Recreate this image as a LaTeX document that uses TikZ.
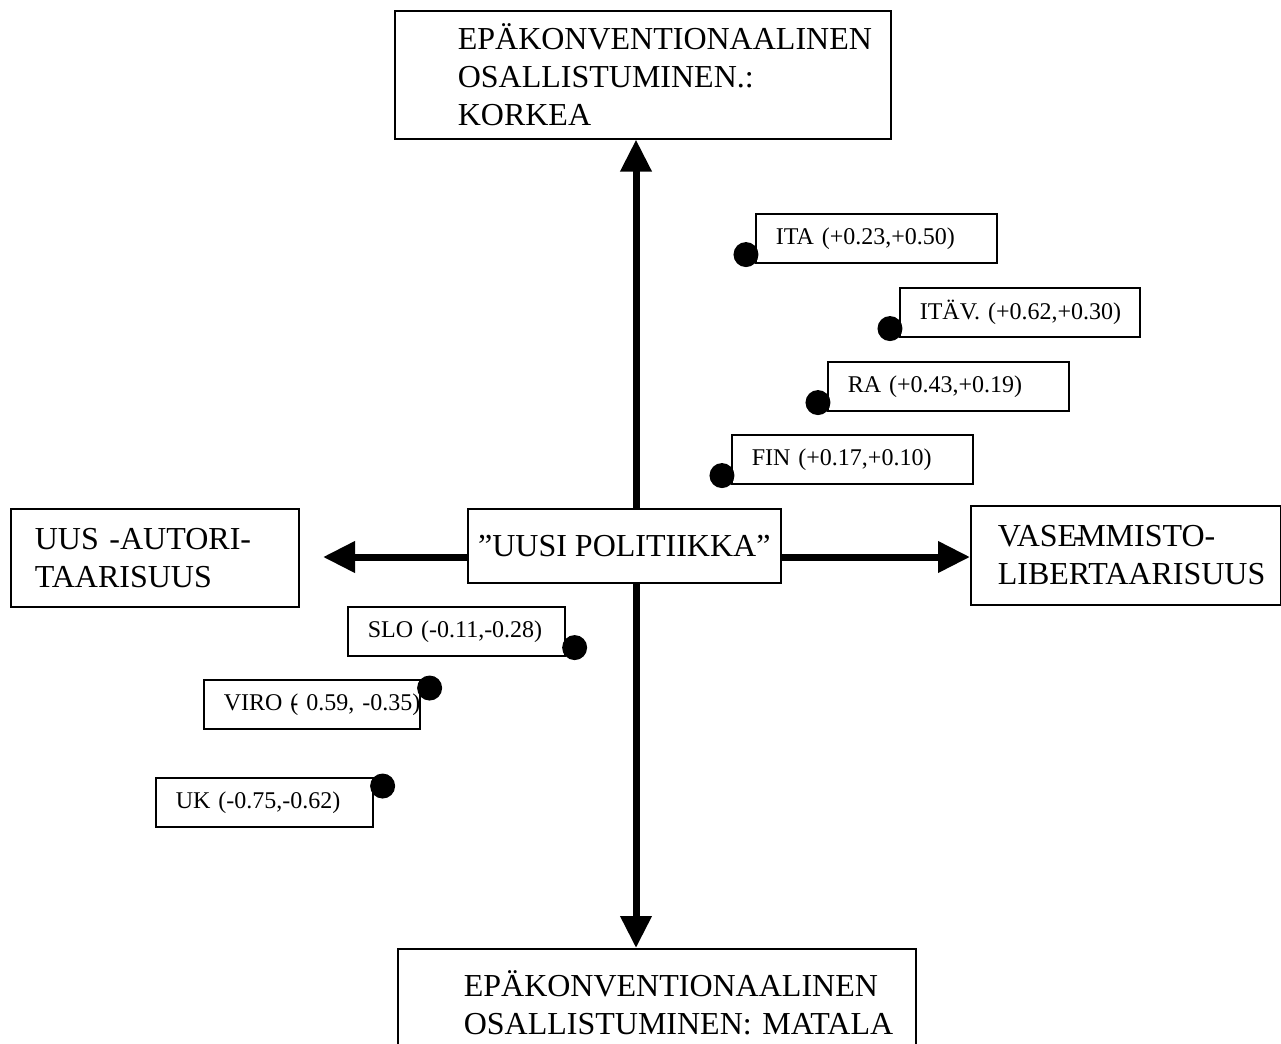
\documentclass[tikz,border=0pt]{standalone}
\usepackage{fontspec}
\setmainfont{Liberation Serif}
\usetikzlibrary{arrows.meta,positioning}

\begin{document}
\begin{tikzpicture}[x=0.75pt,y=-0.75pt,
  bigbox/.style={draw, line width=1.2pt, anchor=north west, align=left, inner ysep=0pt, font=\fontsize{24}{28.5}\selectfont},
  tagbox/.style={draw, line width=1.2pt, anchor=north west, align=left, inner xsep=15pt, inner ysep=0pt, minimum height=36.75pt, font=\fontsize{18}{21}\selectfont},
  dot/.style={circle, fill, inner sep=0pt, minimum size=18.75pt},
  axarrow/.style={line width=5.25pt, -{Triangle[length=24pt, width=22.5pt]}}]
\useasboundingbox (0,0) rectangle (1281,1043);
\node[bigbox, inner xsep=47.25pt, text width=277.5pt, minimum height=96pt] (top) at (394,10) {\mbox{EPÄKONVENTIONAALINEN}\\\mbox{OSALLISTUMINEN.:}\\\mbox{KORKEA}};
\node[bigbox, inner xsep=49.5pt, text width=289.5pt, minimum height=81pt] (bottom) at (397,948) {\mbox{EPÄKONVENTIONAALINEN}\\\mbox{OSALLISTUMINEN: MATALA}};
\node[bigbox, inner xsep=18pt, text width=180pt, minimum height=73.5pt] (lbox) at (10,508) {\mbox{UUS -AUTORI-}\\\mbox{TAARISUUS}};
\node[bigbox, inner xsep=20.25pt, text width=192pt, minimum height=74.25pt] (rbox) at (970,505) {\mbox{VASE\kern-0.12em\rlap{-}\kern0.12em MMISTO-}\\\mbox{LIBERTAARISUUS}};
\node[draw, line width=1.2pt, anchor=north west, inner sep=0pt, minimum width=234.75pt, minimum height=55.5pt, font=\fontsize{24}{28.5}\selectfont] (cbox) at (467,508) {”UUSI POLITIIKKA”};

\coordinate (vx) at (636,545);
\coordinate (hy) at (636,557);
\coordinate (lefttip) at (323,557);
\draw[axarrow] (vx |- cbox.north) -- (vx |- top.south);
\draw[axarrow] (vx |- cbox.south) -- (vx |- bottom.north);
\draw[axarrow] (cbox.west |- hy) -- (lefttip);
\draw[axarrow] (cbox.east |- hy) -- (rbox.west |- hy);

\node[tagbox, text width=150.75pt] (ita) at (755,213) {\mbox{ITA (+0.23,+0.50)}};
\node[tagbox, text width=150pt] (itav) at (899,287) {\mbox{ITÄV. (+0.62,+0.30)}};
\node[tagbox, text width=150.75pt] (ra) at (827,361) {\mbox{RA (+0.43,+0.19)}};
\node[tagbox, text width=150.75pt] (fin) at (731,434) {\mbox{FIN (+0.17,+0.10)}};
\node[tagbox, text width=132.75pt] (slo) at (347,606) {\mbox{SLO (-0.11,-0.28)}};
\node[tagbox, text width=132pt] (viro) at (203,679) {\mbox{VIRO (\llap{-}\ 0.59, -0.35)}};
\node[tagbox, text width=132.75pt] (uk) at (155,777) {\mbox{UK (-0.75,-0.62)}};

\node[dot, above left=0pt of ita.south west] (itadot) {};
\node[dot, above left=0pt of itav.south west] (itavdot) {};
\node[dot, above left=0pt of ra.south west] (radot) {};
\node[dot, above left=0pt of fin.south west] (findot) {};
\node[dot, above right=0pt of slo.south east] (slodot) {};
\node[dot, below right=0pt of viro.north east] (virodot) {};
\node[dot, below right=0pt of uk.north east] (ukdot) {};
\end{tikzpicture}
\end{document}
